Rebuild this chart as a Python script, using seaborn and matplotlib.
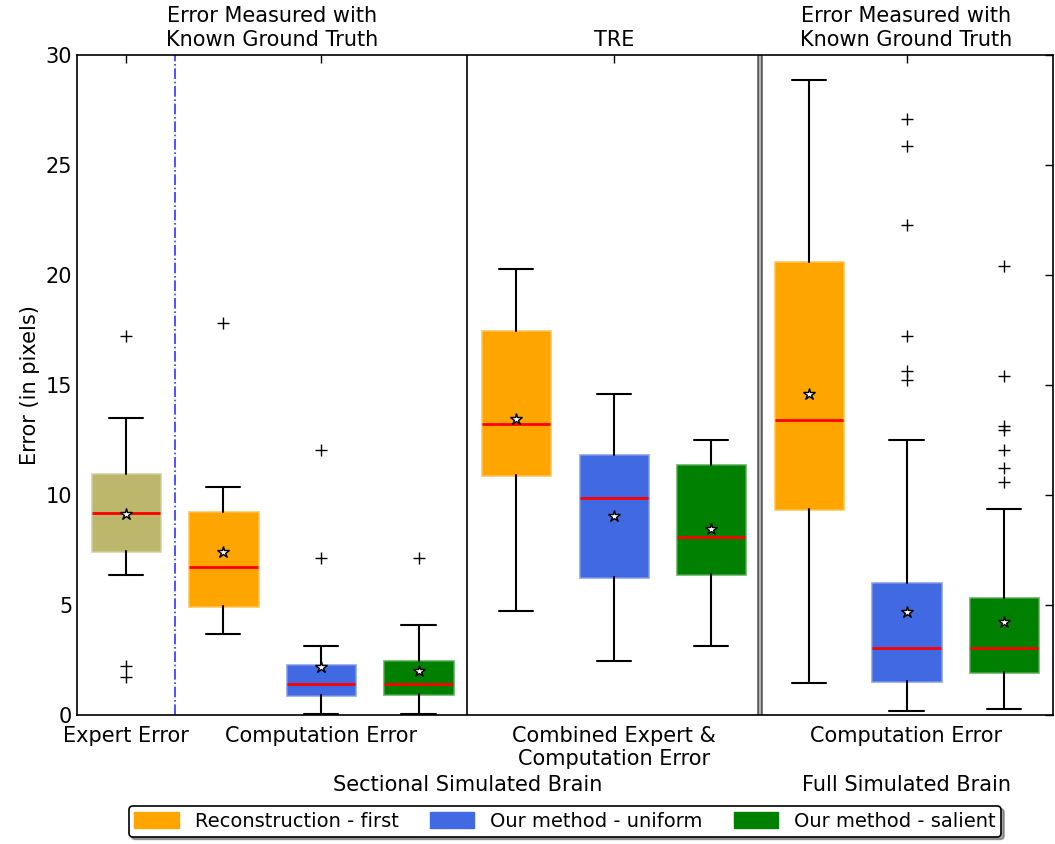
import matplotlib
matplotlib.use("Agg")
import matplotlib.pyplot as plt
import matplotlib.patches as mpatches
import seaborn as sns

sns.set_style("white")
plt.rcParams["font.family"] = ["DejaVu Sans"]
plt.rcParams["text.color"] = "black"
plt.rcParams["axes.labelcolor"] = "black"
plt.rcParams["xtick.color"] = "black"
plt.rcParams["ytick.color"] = "black"

# box positions and values
positions = [1, 2, 3, 4, 5, 6, 7, 8, 9, 10]
whislo = [6.36, 3.68, 0.02, 0.02, 4.73, 2.45, 3.14, 1.45, 0.18, 0.27]
q1 = [7.45, 4.95, 0.91, 0.93, 10.9, 6.27, 6.41, 9.36, 1.55, 1.97]
med = [9.18, 6.73, 1.41, 1.41, 13.23, 9.86, 8.09, 13.41, 3.05, 3.05]
q3 = [10.95, 9.23, 2.27, 2.45, 17.45, 11.8, 11.36, 20.6, 6.0, 5.3]
whishi = [13.5, 10.36, 3.14, 4.09, 20.27, 14.6, 12.5, 28.86, 12.5, 9.36]
means = [9.14, 7.41, 2.18, 2.0, 13.45, 9.05, 8.45, 14.6, 4.68, 4.2]
fliers = [
    [17.2, 2.2, 1.7],
    [17.8],
    [12.05, 7.14],
    [7.14],
    [],
    [],
    [],
    [],
    [27.1, 25.86, 22.26, 17.2, 15.65, 15.23],
    [20.4, 15.4, 13.14, 12.95, 12.05, 11.23, 10.6],
]
box_colors = ["#BDB76B", "#FFA500", "#4169E1", "#008000", "#FFA500",
              "#4169E1", "#008000", "#FFA500", "#4169E1", "#008000"]

tick_pos = [1, 3, 6, 9]
tick_labels = ["Expert Error", "Computation Error",
               "Combined Expert &\nComputation Error", "Computation Error"]
legend_labels = ["Reconstruction - first", "Our method - uniform",
                 "Our method - salient"]
legend_colors = ["#FFA500", "#4169E1", "#008000"]

stats = []
for i in range(len(positions)):
    stats.append(dict(whislo=whislo[i], q1=q1[i], med=med[i], q3=q3[i],
                      whishi=whishi[i], mean=means[i], fliers=fliers[i]))

fig = plt.figure(figsize=(10.55, 8.44), dpi=100)
ax = fig.add_axes([0.073, 0.153, 0.925, 0.782])

bp = ax.bxp(stats, positions=positions, widths=0.7, patch_artist=True,
            showmeans=True,
            medianprops=dict(color="red", linewidth=2),
            whiskerprops=dict(color="black", linewidth=1.5, linestyle="-"),
            capprops=dict(color="black", linewidth=1.5),
            flierprops=dict(marker="+", markeredgecolor="black",
                            markersize=8, markeredgewidth=1,
                            linestyle="none"),
            meanprops=dict(marker="*", markerfacecolor="white",
                           markeredgecolor="black", markersize=9))
for box, c in zip(bp["boxes"], box_colors):
    box.set_facecolor(c)
    box.set_edgecolor(matplotlib.colors.to_rgba(c, 0.55))
    box.set_linewidth(2)

ax.axvline(1.5, color="blue", linestyle="-.", linewidth=1.2, alpha=0.8)
ax.axvline(4.5, color="black", linewidth=1.2)
ax.axvline(7.5, color="0.35", linewidth=4)
ax.axvline(7.5, color="0.7", linewidth=1.5)

ax.set_xlim(0.5, 10.5)
ax.set_ylim(0, 30)
ax.set_yticks([0, 5, 10, 15, 20, 25, 30])
ax.set_xticks(tick_pos)
ax.set_xticklabels(tick_labels)
ax.tick_params(axis="both", direction="in", length=6, width=1,
               top=True, right=True, labelsize=15, color="black")
ax.tick_params(axis="x", pad=8)
ax.set_ylabel("Error (in pixels)", fontsize=15)
for s in ax.spines.values():
    s.set_color("black")
    s.set_linewidth(1.2)

tr = ax.get_xaxis_transform()
ax.text(2.5, 1.008, "Error Measured with\nKnown Ground Truth", transform=tr,
        ha="center", va="bottom", fontsize=15)
ax.text(6, 1.008, "TRE", transform=tr, ha="center", va="bottom", fontsize=15)
ax.text(9, 1.008, "Error Measured with\nKnown Ground Truth", transform=tr,
        ha="center", va="bottom", fontsize=15)
ax.text(4.5, -0.107, "Sectional Simulated Brain", transform=tr,
        ha="center", va="center", fontsize=15)
ax.text(9, -0.107, "Full Simulated Brain", transform=tr,
        ha="center", va="center", fontsize=15)

handles = [mpatches.Patch(facecolor=c, edgecolor=c) for c in legend_colors]
leg = ax.legend(handles, legend_labels, loc="upper center",
                bbox_to_anchor=(0.5, -0.138), ncol=3, fontsize=14,
                frameon=True, fancybox=True, shadow=True,
                handlelength=2.3, handleheight=0.9, borderpad=0.3,
                columnspacing=1.6, borderaxespad=0)
leg.get_frame().set_edgecolor("black")
leg.get_frame().set_linewidth(1.2)

fig.savefig("out.png", dpi=100)
